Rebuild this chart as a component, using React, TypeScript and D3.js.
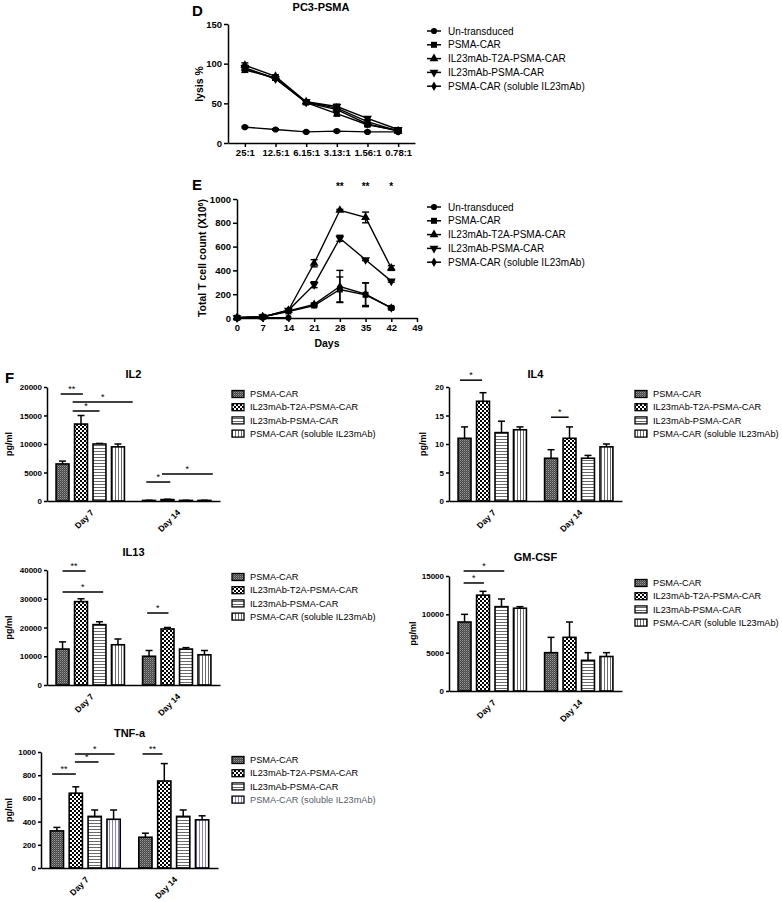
import { useEffect, useRef } from "react";
import * as d3 from "d3";

const FONT = "'Liberation Sans', Arial, sans-serif";

// ---- panel D : lysis vs E:T ratio
const ratios = ["25:1", "12.5:1", "6.15:1", "3.13:1", "1.56:1", "0.78:1"];
const lineSeries = ["Un-transduced", "PSMA-CAR", "IL23mAb-T2A-PSMA-CAR", "IL23mAb-PSMA-CAR", "PSMA-CAR (soluble IL23mAb)"];
const lysisUntransduced = [20, 17, 14, 15, 14, 14];
const lysisPsmaCar = [92, 82, 51, 37, 23, 16];
const lysisT2A = [98, 84, 52, 44, 27, 15];
const lysisIL23 = [95, 81, 52, 46, 31, 17];
const lysisSoluble = [94, 81, 51, 42, 24, 15];
const lysisErrUntransduced = [1, 1, 1, 1, 1, 1];
const lysisErrPsmaCar = [3, 2, 2, 3, 2, 1];
const lysisErrT2A = [3, 2, 2, 2, 2, 1];
const lysisErrIL23 = [3, 2, 2, 3, 2, 1];
const lysisErrSoluble = [2, 2, 2, 2, 2, 1];
const lysisTicks = [0, 50, 100, 150];

// ---- panel E : T cell expansion
const days = [0, 7, 14, 21, 28, 35, 42];
const daysUntransduced = [0, 7, 14];
const countUntransduced = [2, 2, 2];
const countPsmaCar = [2, 10, 55, 105, 240, 195, 85];
const countT2A = [2, 10, 65, 460, 905, 845, 420];
const countIL23 = [2, 10, 65, 280, 670, 490, 310];
const countSoluble = [2, 8, 60, 115, 265, 200, 85];
const countErrUntransduced = [0, 0, 0];
const countErrPsmaCar = [0, 3, 5, 10, 105, 100, 8];
const countErrT2A = [0, 3, 5, 30, 8, 45, 20];
const countErrIL23 = [0, 3, 5, 25, 25, 8, 8];
const countErrSoluble = [0, 3, 5, 10, 135, 95, 8];
const dayTicks = [0, 7, 14, 21, 28, 35, 42, 49];
const countTicks = [0, 200, 400, 600, 800, 1000];
const countSig = [[28, "**"], [35, "**"], [42, "*"]];

// ---- panel F : cytokines
const groups = ["Day 7", "Day 14"];
const barSeries = ["PSMA-CAR", "IL23mAb-T2A-PSMA-CAR", "IL23mAb-PSMA-CAR", "PSMA-CAR (soluble IL23mAb)"];

const il2Means = [[6500, 13500, 10000, 9500], [100, 250, 100, 100]];
const il2Errs = [[500, 1500, 100, 500], [30, 60, 30, 30]];
const il2Ticks = [0, 5000, 10000, 15000, 20000];
// [group, from bar, to bar, height, label]
const il2Sig = [[0, -0.1, 1.1, 18770, "**"], [0, 0.55, 3.8, 17370, "*"], [0, 0.55, 2.0, 15790, "*"], [1, -0.15, 1.15, 3330, "*"], [1, 0.7, 3.45, 4740, "*"]];

const il4Means = [[11, 17.5, 12, 12.5], [7.5, 11, 7.5, 9.5]];
const il4Errs = [[2, 1.5, 2, 0.5], [1.5, 2, 0.5, 0.5]];
const il4Ticks = [0, 5, 10, 15, 20];
const il4Sig = [[0, -0.25, 0.95, 21.2, "*"], [1, 0, 0.95, 14.7, "*"]];

const il13Means = [[12500, 29000, 21000, 14000], [10000, 19500, 12500, 10500]];
const il13Errs = [[2500, 1000, 1000, 2000], [2000, 500, 500, 1500]];
const il13Ticks = [0, 10000, 20000, 30000, 40000];
const il13Sig = [[0, 0, 1.25, 39650, "**"], [0, 0, 2.2, 32350, "*"], [1, -0.1, 1.05, 25040, "*"]];

const gmMeans = [[9000, 12500, 11000, 10800], [5000, 7000, 4000, 4500]];
const gmErrs = [[1000, 500, 1000, 200], [2000, 2000, 1000, 500]];
const gmTicks = [0, 5000, 10000, 15000];
const gmSig = [[0, -0.05, 1.05, 14090, "*"], [0, -0.05, 2.15, 15650, "*"]];

const tnfMeans = [[320, 645, 445, 420], [265, 750, 445, 415]];
const tnfErrs = [[30, 55, 55, 80], [35, 150, 55, 35]];
const tnfTicks = [0, 200, 400, 600, 800, 1000];
const tnfSig = [[0, -0.25, 1.0, 810, "**"], [0, 0.95, 2.2, 914, "*"], [0, 0.95, 3.05, 983, "*"], [1, -0.15, 0.9, 983, "**"]];

const symbolTypes = [d3.symbolCircle, d3.symbolSquare, d3.symbolTriangle, d3.symbolTriangle, d3.symbolDiamond];
const symbolFlip = [false, false, false, true, false];
const symbolSizes = [30, 36, 34, 34, 26];

function Marker({ i, x, y }) {
  const p = d3.symbol().type(symbolTypes[i]).size(symbolSizes[i])();
  return <path d={p} fill="#000" transform={`translate(${x},${y})${symbolFlip[i] ? " rotate(180)" : ""}`} />;
}

function Axis({ scale, orient, x = 0, y = 0, ticks, size = 4, fontSize = 10, rotate = false }) {
  const ref = useRef(null);
  useEffect(() => {
    const g = d3.select(ref.current);
    g.selectAll("*").remove();
    const ax = (orient === "left" ? d3.axisLeft(scale) : d3.axisBottom(scale))
      .tickSizeOuter(0)
      .tickSizeInner(size)
      .tickPadding(2);
    if (ticks) ax.tickValues(ticks);
    if (orient === "left") ax.tickFormat(d3.format("d"));
    g.call(ax);
    g.attr("font-family", FONT).attr("font-size", fontSize).attr("font-weight", "bold");
    g.select(".domain").attr("stroke-width", 1.5);
    g.selectAll(".tick line").attr("stroke-width", 1.5);
    if (rotate) {
      g.selectAll(".tick text")
        .attr("x", 0)
        .attr("y", 0)
        .attr("dy", "0.35em")
        .attr("text-anchor", "end")
        .attr("transform", "translate(2,10) rotate(-45)");
    }
  });
  return <g ref={ref} transform={`translate(${x},${y})`} />;
}

function LineLegend({ x, y }) {
  return (
    <g>
      {lineSeries.map((s, i) => (
        <g key={s}>
          <line x1={x} x2={x + 14} y1={y + i * 13.8} y2={y + i * 13.8} stroke="#000" strokeWidth={1.5} />
          <Marker i={i} x={x + 7} y={y + i * 13.8} />
          <text x={x + 21} y={y + i * 13.8} dy="0.35em" fontSize={10} fontFamily={FONT}>{s}</text>
        </g>
      ))}
    </g>
  );
}

function Series({ i, xs, vals, errs, x, y }) {
  const line = d3.line().x((d, k) => x(xs[k])).y((d) => y(d));
  return (
    <g>
      <path d={line(vals)} fill="none" stroke="#000" strokeWidth={1.4} />
      {vals.map((v, k) => errs[k] > 0 && (
        <g key={k} stroke="#000" strokeWidth={1.4}>
          <line x1={x(xs[k])} x2={x(xs[k])} y1={y(v - errs[k])} y2={y(v + errs[k])} />
          <line x1={x(xs[k]) - 3.5} x2={x(xs[k]) + 3.5} y1={y(v + errs[k])} y2={y(v + errs[k])} />
          <line x1={x(xs[k]) - 3.5} x2={x(xs[k]) + 3.5} y1={y(v - errs[k])} y2={y(v - errs[k])} />
        </g>
      ))}
      {vals.map((v, k) => <Marker key={"m" + k} i={i} x={x(xs[k])} y={y(v)} />)}
    </g>
  );
}

function PanelD() {
  const x = d3.scalePoint().domain(ratios).range([228, 415]).padding(0.55);
  const y = d3.scaleLinear().domain([0, 150]).range([143, 24]);
  const vals = [lysisUntransduced, lysisPsmaCar, lysisT2A, lysisIL23, lysisSoluble];
  const errs = [lysisErrUntransduced, lysisErrPsmaCar, lysisErrT2A, lysisErrIL23, lysisErrSoluble];
  return (
    <g fontFamily={FONT}>
      <text x={192} y={16} fontSize={15} fontWeight="bold">D</text>
      <text x={321} y={11} fontSize={11} fontWeight="bold" textAnchor="middle">PC3-PSMA</text>
      <text transform={`translate(203,84) rotate(-90)`} textAnchor="middle" fontSize={10.5} fontWeight="bold">lysis %</text>
      <Axis scale={y} orient="left" x={228} ticks={lysisTicks} fontSize={9.5} />
      <Axis scale={x} orient="bottom" y={143} fontSize={9.5} />
      {vals.map((v, i) => <Series key={i} i={i} xs={ratios} vals={v} errs={errs[i]} x={x} y={y} />)}
      <LineLegend x={427} y={31} />
    </g>
  );
}

function PanelE() {
  const x = d3.scaleLinear().domain([0, 49]).range([237, 417]);
  const y = d3.scaleLinear().domain([0, 1000]).range([318, 199]);
  const vals = [countUntransduced, countPsmaCar, countT2A, countIL23, countSoluble];
  const errs = [countErrUntransduced, countErrPsmaCar, countErrT2A, countErrIL23, countErrSoluble];
  return (
    <g fontFamily={FONT}>
      <text x={192} y={190} fontSize={15} fontWeight="bold">E</text>
      <text transform={`translate(206,258) rotate(-90)`} textAnchor="middle" fontSize={10.5} fontWeight="bold">
        Total T cell count (X10<tspan baselineShift="super" fontSize={7}>6</tspan>)
      </text>
      <Axis scale={y} orient="left" x={237} ticks={countTicks} fontSize={9.5} />
      <Axis scale={x} orient="bottom" y={318} ticks={dayTicks} fontSize={9.5} />
      <text x={327} y={347} textAnchor="middle" fontSize={10.5} fontWeight="bold">Days</text>
      {countSig.map(([d, s]) => (
        <text key={d} x={x(d)} y={190} textAnchor="middle" fontSize={10} fontWeight="bold">{s}</text>
      ))}
      {vals.map((v, i) => <Series key={i} i={i} xs={i === 0 ? daysUntransduced : days} vals={v} errs={errs[i]} x={x} y={y} />)}
      <LineLegend x={427} y={207} />
    </g>
  );
}

function BarPanel({ title, titleY, left, right, top, bottom, yMax, ticks, means, errs, sigs, legendX, legendY, labelX, purple = false }) {
  const x0 = d3.scaleBand().domain(groups).range([left, right]).paddingInner(0.21).paddingOuter(0.105);
  const x1 = d3.scaleBand().domain(d3.range(barSeries.length)).range([0, x0.bandwidth()]).paddingInner(0.3);
  const y = d3.scaleLinear().domain([0, yMax]).range([bottom, top]);
  const bw = x1.bandwidth();
  const pos = (g, k) => x0(groups[g]) + k * x1.step() + bw / 2;
  const fill = (k) => `url(#pat${k}${k === 3 && purple ? "p" : ""})`;
  return (
    <g fontFamily={FONT}>
      <text x={(left + right) / 2} y={titleY + 4} textAnchor="middle" fontSize={11} fontWeight="bold">{title}</text>
      <text transform={`translate(${labelX},${(top + bottom) / 2}) rotate(-90)`} dy="0.35em" textAnchor="middle" fontSize={9} fontWeight="bold">pg/ml</text>
      {means.map((row, g) => row.map((v, k) => (
        <g key={g + "-" + k}>
          <line x1={pos(g, k)} x2={pos(g, k)} y1={y(v)} y2={y(v + errs[g][k])} stroke="#000" strokeWidth={1.5} />
          <line x1={pos(g, k) - 3.5} x2={pos(g, k) + 3.5} y1={y(v + errs[g][k])} y2={y(v + errs[g][k])} stroke="#000" strokeWidth={1.5} />
          <rect x={x0(groups[g]) + x1(k)} y={y(v)} width={bw} height={y(0) - y(v)} fill={fill(k)} stroke="#000" strokeWidth={1.6} />
        </g>
      )))}
      <Axis scale={y} orient="left" x={left} ticks={ticks} fontSize={8} size={3} />
      <Axis scale={x0} orient="bottom" y={bottom} fontSize={8.5} size={0} rotate />
      {sigs.map(([g, a, b, h, s], i) => (
        <g key={i}>
          <line x1={pos(g, a)} x2={pos(g, b)} y1={y(h)} y2={y(h)} stroke="#000" strokeWidth={1.5} />
          <text x={(pos(g, a) + pos(g, b)) / 2} y={y(h) - 2} textAnchor="middle" fontSize={9}>{s}</text>
        </g>
      ))}
      {barSeries.map((s, k) => (
        <g key={s}>
          <rect x={legendX} y={legendY + k * 13.2 - 3.5} width={12} height={7} fill={fill(k)} stroke="#000" strokeWidth={1.3} />
          <text x={legendX + 18} y={legendY + k * 13.2} dy="0.35em" fontSize={9.2}
            fill={purple && k === 3 ? "#56606b" : "#000"}>{s}</text>
        </g>
      ))}
    </g>
  );
}

export default function App() {
  return (
    <svg width={782} height={902} style={{ position: "absolute", left: 0, top: 0, background: "#fff" }}>
      <defs>
        <pattern id="pat0" width={2} height={2} patternUnits="userSpaceOnUse">
          <rect width={2} height={2} fill="#474747" />
          <rect width={1} height={1} fill="#9a9a9a" />
          <rect x={1} y={1} width={1} height={1} fill="#6a6a6a" />
        </pattern>
        <pattern id="pat1" width={4} height={4} patternUnits="userSpaceOnUse">
          <rect width={4} height={4} fill="#fff" />
          <rect width={2} height={2} fill="#000" />
          <rect x={2} y={2} width={2} height={2} fill="#000" />
        </pattern>
        <pattern id="pat2" width={3} height={3} patternUnits="userSpaceOnUse">
          <rect width={3} height={3} fill="#fff" />
          <rect y={1} width={3} height={1} fill="#6a6a6a" />
        </pattern>
        <pattern id="pat3" width={3} height={3} patternUnits="userSpaceOnUse">
          <rect width={3} height={3} fill="#fff" />
          <rect x={1} width={1} height={3} fill="#6a6a6a" />
        </pattern>
        <pattern id="pat3p" width={3} height={3} patternUnits="userSpaceOnUse">
          <rect width={3} height={3} fill="#fff" />
          <rect x={1} width={1} height={3} fill="#8a80cc" />
        </pattern>
      </defs>
      <PanelD />
      <PanelE />
      <text x={5} y={383} fontSize={15} fontWeight="bold" fontFamily={FONT}>F</text>
      <BarPanel title="IL2" titleY={374} left={47} right={220} top={387} bottom={501} yMax={20000} ticks={il2Ticks}
        means={il2Means} errs={il2Errs} sigs={il2Sig} legendX={232} legendY={394} labelX={9} />
      <BarPanel title="IL4" titleY={374} left={449} right={622} top={387} bottom={501} yMax={20} ticks={il4Ticks}
        means={il4Means} errs={il4Errs} sigs={il4Sig} legendX={635} legendY={394} labelX={423} />
      <BarPanel title="IL13" titleY={552} left={47} right={220} top={570} bottom={685} yMax={40000} ticks={il13Ticks}
        means={il13Means} errs={il13Errs} sigs={il13Sig} legendX={232} legendY={577} labelX={9} />
      <BarPanel title="GM-CSF" titleY={557} left={449} right={622} top={576} bottom={691} yMax={15000} ticks={gmTicks}
        means={gmMeans} errs={gmErrs} sigs={gmSig} legendX={635} legendY={583} labelX={413} />
      <BarPanel title="TNF-a" titleY={733} left={41} right={218} top={752} bottom={868} yMax={1000} ticks={tnfTicks}
        means={tnfMeans} errs={tnfErrs} sigs={tnfSig} legendX={232} legendY={760} labelX={9} purple />
    </svg>
  );
}
